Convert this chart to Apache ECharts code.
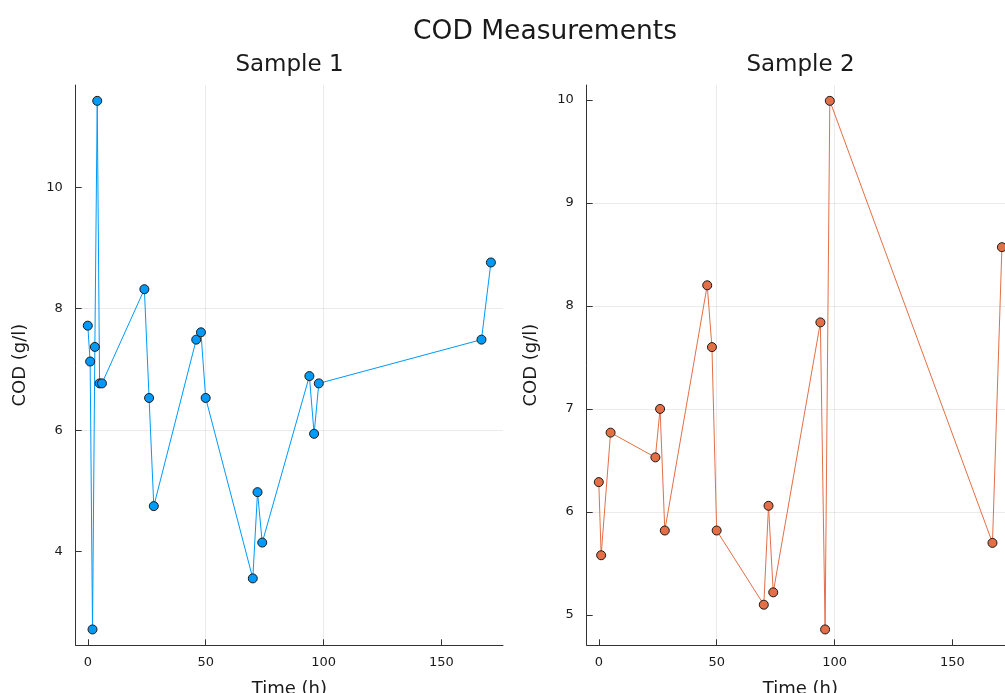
<!DOCTYPE html>
<html>
<head>
<meta charset="utf-8">
<script src="https://cdn.jsdelivr.net/npm/echarts@6/dist/echarts.min.js"></script>
<style>
html,body{margin:0;padding:0;background:#fff;overflow:hidden;width:1005px;height:693px;}
#chart{width:1030px;height:693px;}
</style>
</head>
<body>
<div id="chart"></div>
<script>
// ---- data ----
var mainTitle = "COD Measurements";
var panelTitles = ["Sample 1", "Sample 2"];
var xName = "Time (h)";
var yName = "COD (g/l)";
var time1 = [0, 1, 2, 3, 4, 5, 6, 24, 26, 28, 46, 48, 50, 70, 72, 74, 94, 96, 98, 167, 171];
var cod1  = [7.72, 7.13, 2.72, 7.37, 11.42, 6.77, 6.77, 8.32, 6.53, 4.75, 7.49, 7.61, 6.53, 3.56, 4.98, 4.15, 6.89, 5.94, 6.77, 7.49, 8.76];
var time2 = [0, 1, 5, 24, 26, 28, 46, 48, 50, 70, 72, 74, 94, 96, 98, 167, 171];
var cod2  = [6.29, 5.58, 6.77, 6.53, 7.00, 5.82, 8.20, 7.60, 5.82, 5.10, 6.06, 5.22, 7.84, 4.86, 9.99, 5.70, 8.57];
var xTicks = [0, 50, 100, 150];
var y1Ticks = [4, 6, 8, 10];
var y2Ticks = [5, 6, 7, 8, 9, 10];

// ---- helpers ----
function pairs(xs, ys) { return xs.map(function (x, i) { return [x, ys[i]]; }); }
function padded(arr) {
  var lo = Math.min.apply(null, arr), hi = Math.max.apply(null, arr), s = hi - lo;
  return [lo - 0.03 * s, hi + 0.03 * s];
}
var FONT = "DejaVu Sans";
var TXT = "#1a1a1a";
var x1R = padded(time1), x2R = padded(time2), y1R = padded(cod1), y2R = padded(cod2);

function xAxisCfg(idx, range) {
  return {
    type: 'value', gridIndex: idx, min: range[0], max: range[1],
    name: xName, nameLocation: 'middle', nameGap: 35,
    nameTextStyle: { fontFamily: FONT, fontSize: 18, color: TXT },
    axisLine: { show: true, onZero: false, lineStyle: { color: '#333', width: 1 } },
    axisTick: { show: true, inside: true, length: 6, customValues: xTicks, lineStyle: { color: '#333' } },
    axisLabel: { customValues: xTicks, fontFamily: FONT, fontSize: 13, color: TXT, margin: 11 },
    splitLine: { show: true, showMinLine: false, showMaxLine: false, lineStyle: { color: 'rgba(0,0,0,0.08)', width: 1 } }
  };
}
function yAxisCfg(idx, range, ticks) {
  return {
    type: 'value', gridIndex: idx, min: range[0], max: range[1],
    name: yName, nameLocation: 'middle', nameGap: 46,
    nameTextStyle: { fontFamily: FONT, fontSize: 18, color: TXT },
    axisLine: { show: true, onZero: false, lineStyle: { color: '#333', width: 1 } },
    axisTick: { show: true, inside: true, length: 6, customValues: ticks, lineStyle: { color: '#333' } },
    axisLabel: { customValues: ticks, fontFamily: FONT, fontSize: 13, color: TXT, margin: 13 },
    splitLine: { show: true, showMinLine: false, showMaxLine: false, lineStyle: { color: 'rgba(0,0,0,0.08)', width: 1 } }
  };
}
function seriesCfg(idx, xs, ys, color) {
  return {
    type: 'line', xAxisIndex: idx, yAxisIndex: idx,
    data: pairs(xs, ys),
    symbol: 'circle', symbolSize: 9, showAllSymbol: true,
    lineStyle: { color: color, width: 1 },
    itemStyle: { color: color, borderColor: '#1a1a1a', borderWidth: 1 },
    emphasis: { disabled: true },
    animation: false
  };
}

var chart = echarts.init(document.getElementById('chart'), null, { renderer: 'canvas' });
chart.setOption({
  backgroundColor: '#fff',
  animation: false,
  title: [
    { text: mainTitle, left: 545, top: 19, textAlign: 'center', padding: 0,
      textStyle: { fontFamily: FONT, fontSize: 26.5, fontWeight: 'normal', color: TXT } },
    { text: panelTitles[0], left: 289.5, top: 54, textAlign: 'center', padding: 0,
      textStyle: { fontFamily: FONT, fontSize: 23, fontWeight: 'normal', color: TXT } },
    { text: panelTitles[1], left: 800.5, top: 54, textAlign: 'center', padding: 0,
      textStyle: { fontFamily: FONT, fontSize: 23, fontWeight: 'normal', color: TXT } }
  ],
  grid: [
    { left: 75.7, top: 85, width: 427.3, height: 560.3, containLabel: false, outerBoundsMode: 'none' },
    { left: 586.7, top: 85, width: 427.3, height: 560.3, containLabel: false, outerBoundsMode: 'none' }
  ],
  xAxis: [xAxisCfg(0, x1R), xAxisCfg(1, x2R)],
  yAxis: [yAxisCfg(0, y1R, y1Ticks), yAxisCfg(1, y2R, y2Ticks)],
  series: [
    seriesCfg(0, time1, cod1, '#009AFA'),
    seriesCfg(1, time2, cod2, '#E36F47')
  ]
});
</script>
</body>
</html>
